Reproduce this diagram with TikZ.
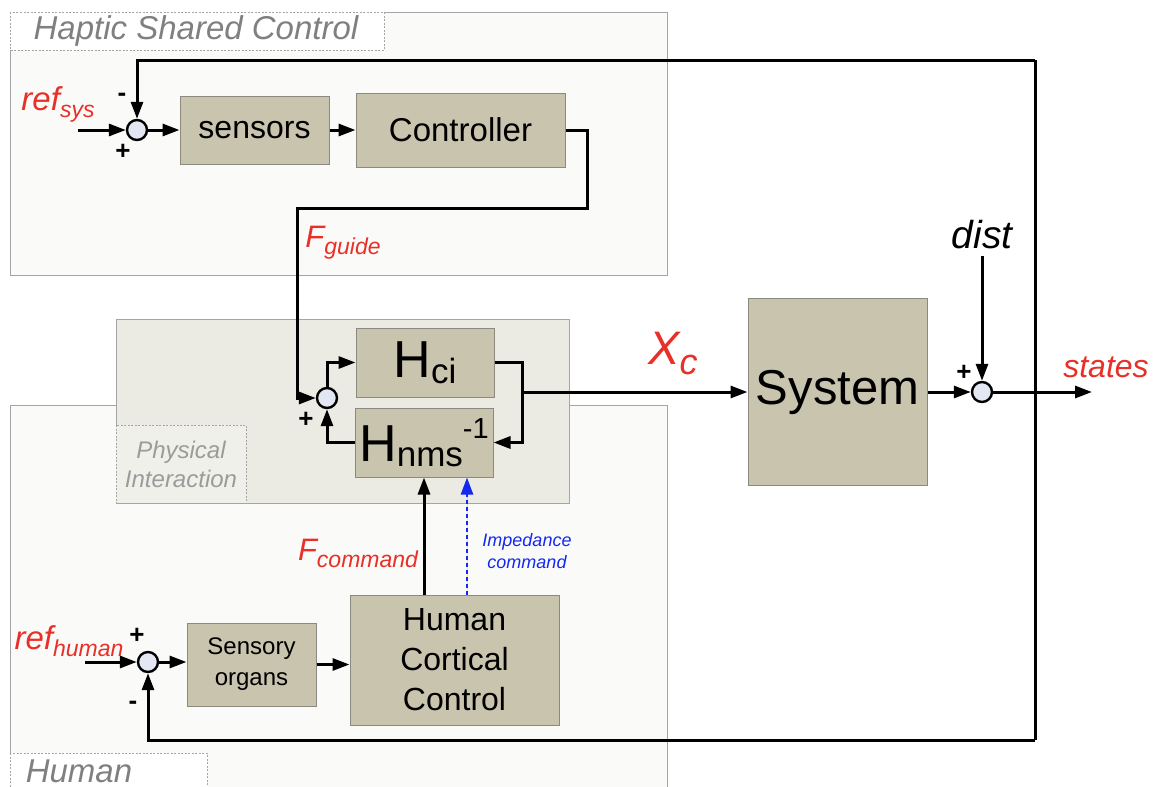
\documentclass[tikz,border=0pt]{standalone}
\usepackage{fontspec}
\setmainfont{Liberation Sans}
\usetikzlibrary{arrows.meta,calc}
\definecolor{regfill}{RGB}{250,250,248}
\definecolor{physfill}{RGB}{235,235,228}
\definecolor{physttl}{RGB}{240,240,235}
\definecolor{regline}{RGB}{165,165,165}
\definecolor{blkfill}{RGB}{201,196,174}
\definecolor{blkline}{RGB}{140,138,128}
\definecolor{sumfill}{RGB}{227,231,242}
\definecolor{lblred}{RGB}{232,48,40}
\definecolor{ttlgray}{RGB}{128,128,128}
\definecolor{physgray}{RGB}{155,155,155}
\definecolor{impblue}{RGB}{20,40,240}
\newcommand{\fsz}[1]{\fontsize{#1}{#1}\selectfont}
\begin{document}
\begin{tikzpicture}[x=1pt,y=-1pt,
 region/.style={draw=regline, line width=0.9pt, fill=regfill},
 ttlbox/.style={draw=regline, dash pattern=on 2pt off 1.5pt, line width=0.8pt, fill=white},
 ttl/.style={text=ttlgray, font=\fsz{33}\itshape, inner sep=0},
 block/.style={draw=blkline, line width=1pt, fill=blkfill, inner sep=0, align=center},
 sumj/.style={circle, draw=black, line width=2.4pt, fill=sumfill, minimum size=20pt, inner sep=0},
 arr/.style={line width=3pt, -{Triangle[length=17pt,width=12pt]}},
 wire/.style={line width=3pt},
 sgn/.style={font=\fsz{26}\bfseries, inner sep=0},
 lbl/.style={text=lblred, inner sep=0, font=\itshape},
]
\clip (0,0) rectangle (1154,787);
\fill[white] (0,0) rectangle (1154,787);
% regions
\draw[region] (10,12) rectangle (667,275);
\draw[region] (10,405) rectangle (667,800);
\draw[region, fill=physfill] (116,319) rectangle (569,503);
\draw[ttlbox] (10,12) rectangle (384,50);
\node[ttl] (thsc) at (196,31) {Haptic Shared Control};
\draw[ttlbox] (10,753) rectangle (207,800);
\node[ttl] (thum) at (79,771) {Human};
\draw[ttlbox, fill=physttl] (116,425) rectangle (246,503);
\node[ttl, text=physgray, align=center, font=\fontsize{24}{29}\selectfont\itshape] (tphys) at (181,464) {Physical\\Interaction};
% blocks
\node[block, minimum width=149pt, minimum height=68pt, font=\fsz{32}] (sens) at (254.5,130) {sensors};
\node[block, minimum width=209pt, minimum height=74pt, font=\fsz{33}] (ctrl) at (460.5,130) {Controller};
\node[block, minimum width=138pt, minimum height=69pt] (hci) at (425,362.5) {\fsz{52}H\raisebox{-6pt}{\fsz{35}ci}};
\node[block, minimum width=138pt, minimum height=69pt] (hnms) at (424,442.5) {\fsz{52}H\raisebox{-5pt}{\fsz{35}nms}\raisebox{23pt}{\fsz{29}-1}};
\node[block, minimum width=179pt, minimum height=187pt, font=\fsz{49}] (sys) at (837.5,392) {System};
\node[block, minimum width=129pt, minimum height=83pt, font=\fontsize{24}{31}\selectfont] (sensory) at (251.5,664.5) {Sensory\\organs};
\node[block, minimum width=209pt, minimum height=130pt, font=\fontsize{32}{40}\selectfont] (hcc) at (454.5,660) {Human\\Cortical\\Control};
% summing junctions
\node[sumj] (s1) at (137,130) {};
\node[sumj] (s2) at (327,398) {};
\node[sumj] (s3) at (148,662) {};
\node[sumj] (s4) at (982,392) {};
% coordinates
\coordinate (rsin) at (78,130);
\coordinate (fbtop) at (1035,60);
\coordinate (fbbot) at (1035,740);
\coordinate (cbend) at (587,208);
\coordinate (gx) at (297,208);
\coordinate (jn) at (522,392);
\coordinate (outp) at (1092,392);
\coordinate (rhin) at (85,662);
\coordinate (impx) at (467,0);
% labels
\node[lbl] (lrefsys) at (58,104) {\fsz{33}ref\raisebox{-7pt}{\fsz{23}sys}};
\node[lbl] (lfguide) at (343,243) {\fsz{31}F\raisebox{-7pt}{\fsz{23}guide}};
\node[lbl] (lxc) at (673,354) {\fsz{47}X\raisebox{-10pt}{\fsz{36}c}};
\node[lbl] (lstates) at (1106,367) {\fsz{32}states};
\node[inner sep=0, font=\fsz{39}\itshape] (dist) at (982,235) {dist};
\node[lbl] (lfcmd) at (358,553) {\fsz{31}F\raisebox{-7pt}{\fsz{23}command}};
\node[lbl] (lrefh) at (69,641) {\fsz{33}ref\raisebox{-7pt}{\fsz{23}human}};
\node[text=impblue, inner sep=0, align=center, font=\fontsize{18}{22}\selectfont\itshape] (limp) at (527,551) {Impedance\\command};
% signs
\node[sgn] (sg1m) at (122,97) {-};
\node[sgn] (sg1p) at (123,152) {+};
\node[sgn] (sg2p) at (306,420) {+};
\node[sgn] (sg3p) at (137,636) {+};
\node[sgn] (sg3m) at (133,705) {-};
\node[sgn] (sg4p) at (964,373) {+};
% connectors
\draw[arr] (rsin) -- (s1.west);
\draw[wire] (fbtop) -- (fbbot);
\draw[arr] (fbtop) -| (s1.north);
\draw[arr] (fbbot) -| (s3.south);
\draw[arr] (s1.east) -- (sens.west);
\draw[arr] (sens.east) -- (ctrl.west);
\draw[arr] (ctrl.east) -| (cbend) -- (gx) |- (s2.west);
\draw[arr] (s2.north) |- (hci.west);
\draw[arr] (hnms.west) -| (s2.south);
\draw[arr] (hci.east) -| (jn) |- (hnms.east);
\draw[arr] (jn) -- (jn -| sys.west);
\draw[arr] (sys.east |- s4.west) -- (s4.west);
\draw[arr] ([yshift=-6pt]dist.south -| s4.north) -- (s4.north);
\draw[arr] (s4.east) -- (outp);
\draw[arr] (rhin) -- (s3.west);
\draw[arr] (s3.east) -- (sensory.west |- s3.east);
\draw[arr] (sensory.east) -- (sensory.east -| hcc.west);
\draw[arr] (hcc.north -| hnms.south) -- (hnms.south);
\draw[arr, draw=impblue, fill=impblue, line width=2.4pt, dash pattern=on 4pt off 3pt] (hcc.north -| impx) -- (hnms.south -| impx);
\end{tikzpicture}
\end{document}
